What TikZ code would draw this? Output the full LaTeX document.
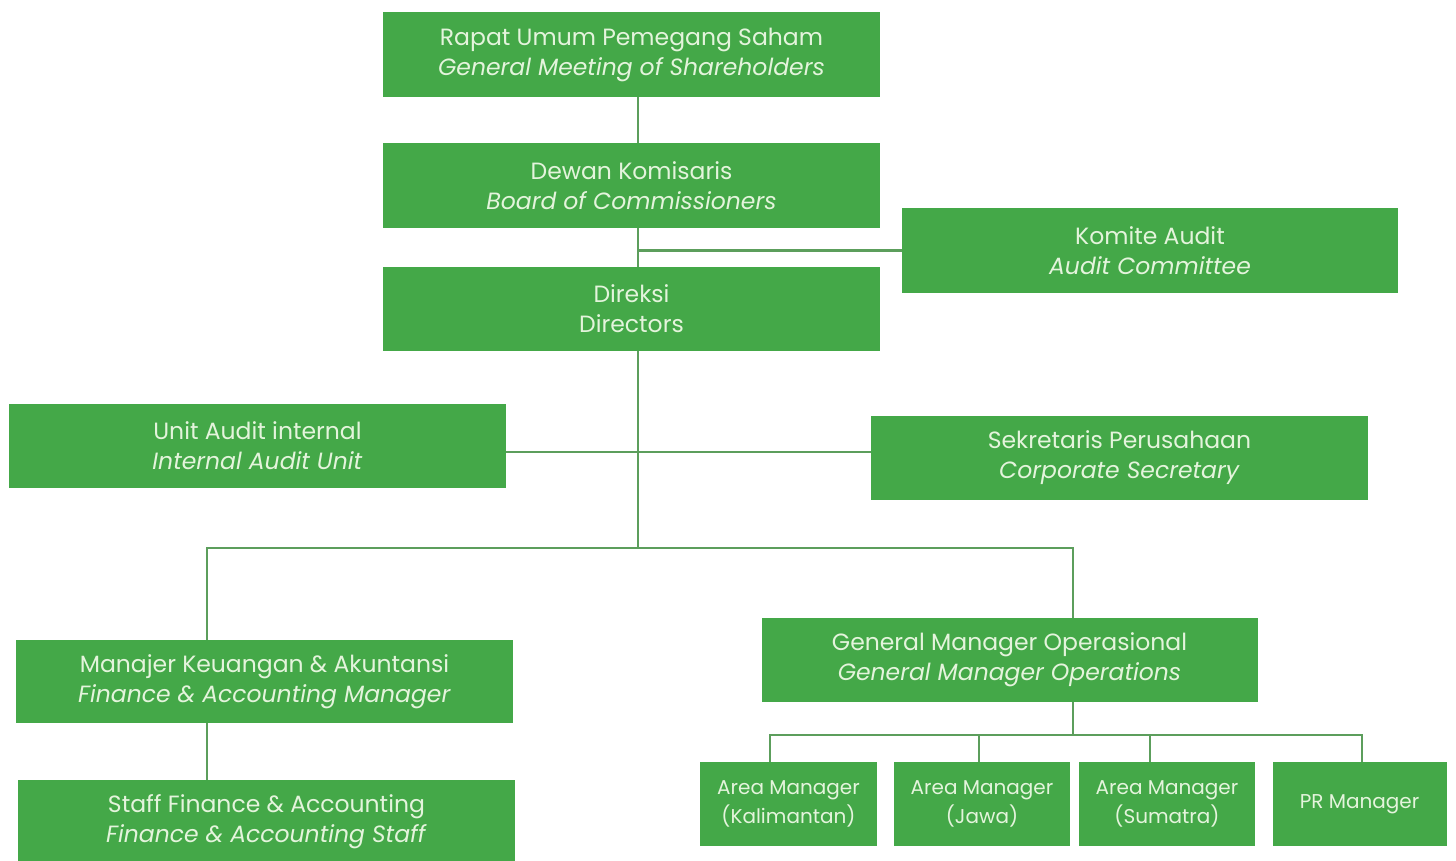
\documentclass[tikz,border=0pt]{standalone}
\usepackage{fontspec}
\setmainfont{Poppins}
\usetikzlibrary{calc}
\definecolor{boxgreen}{HTML}{44A848}
\definecolor{linegreen}{HTML}{5C9E5C}
\definecolor{txt}{HTML}{E4F4DC}
\begin{document}
\begin{tikzpicture}[x=1pt,y=-1pt,
  orgbox/.style={fill=boxgreen,draw=none,text=txt,align=center,inner sep=0pt,
    font=\fontsize{23.5}{30}\selectfont},
  areabox/.style={orgbox,font=\fontsize{20}{29}\selectfont},
  conn/.style={draw=linegreen,line width=2.8pt}]
\useasboundingbox (0,0) rectangle (1456,861);
\clip (0,0) rectangle (1456,861);
% nodes
\node[orgbox,minimum width=497pt,minimum height=85pt] (rups) at (631.5,54.5) {Rapat Umum Pemegang Saham\\\textit{General Meeting of Shareholders}};
\node[orgbox,minimum width=497pt,minimum height=85pt] (dk) at (631.5,185.5) {Dewan Komisaris\\\textit{Board of Commissioners}};
\node[orgbox,minimum width=497pt,minimum height=84pt] (dir) at (631.5,309) {Direksi\\Directors};
\node[orgbox,minimum width=496pt,minimum height=85pt] (ka) at (1150,250.5) {Komite Audit\\\textit{Audit Committee}};
\node[orgbox,minimum width=497pt,minimum height=84pt] (uai) at (257.5,446) {Unit Audit internal\\\textit{Internal Audit Unit}};
\node[orgbox,minimum width=497pt,minimum height=84pt] (sek) at (1119.5,458) {Sekretaris Perusahaan\\\textit{Corporate Secretary}};
\node[orgbox,minimum width=497pt,minimum height=83pt] (mk) at (264.5,681.5) {Manajer Keuangan \& Akuntansi\\\textit{Finance \& Accounting Manager}};
\node[orgbox,minimum width=497pt,minimum height=84pt] (staff) at (266.5,822) {Staff Finance \& Accounting\\\textit{Finance \& Accounting Staff}};
\node[orgbox,minimum width=496pt,minimum height=84pt] (gm) at (1009.5,660) {General Manager Operasional\\\textit{General Manager Operations}};
\node[areabox,minimum width=177pt,minimum height=84pt] (ak) at (788.5,804) {Area Manager\\(Kalimantan)};
\node[areabox,minimum width=176pt,minimum height=84pt] (aj) at (982,804) {Area Manager\\(Jawa)};
\node[areabox,minimum width=176pt,minimum height=84pt] (as) at (1167,804) {Area Manager\\(Sumatra)};
\node[areabox,minimum width=174pt,minimum height=84pt] (pr) at (1359.5,804) {PR Manager};
% helper coordinates
\coordinate (spine) at (638,548);
\coordinate (hl) at (0,452);
\coordinate (lb) at (207,548);
\coordinate (rb) at (1073,548);
\coordinate (abus) at (0,735);
\coordinate (d1) at (770,0);
\coordinate (d2) at (979,0);
\coordinate (d3) at (1150,0);
\coordinate (d4) at (1362,0);
% connectors
\draw[conn] (rups.south -| spine) -- (dk.north -| spine);
\draw[conn] (dk.south -| spine) -- (dir.north -| spine);
\draw[conn] (ka.west -| spine) -- (ka.west);
\draw[conn] (dir.south -| spine) -- (spine);
\draw[conn] (uai.east |- hl) -- (sek.west |- hl);
\draw[conn] (mk.north -| lb) -- (lb) -- (rb) -- (gm.north -| rb);
\draw[conn] (mk.south -| lb) -- (staff.north -| lb);
\draw[conn] (gm.south -| rb) -- (rb |- abus);
\draw[conn] (ak.north -| d1) -- (d1 |- abus) -- (d4 |- abus) -- (pr.north -| d4);
\draw[conn] (aj.north -| d2) -- (d2 |- abus);
\draw[conn] (as.north -| d3) -- (d3 |- abus);
\end{tikzpicture}
\end{document}
